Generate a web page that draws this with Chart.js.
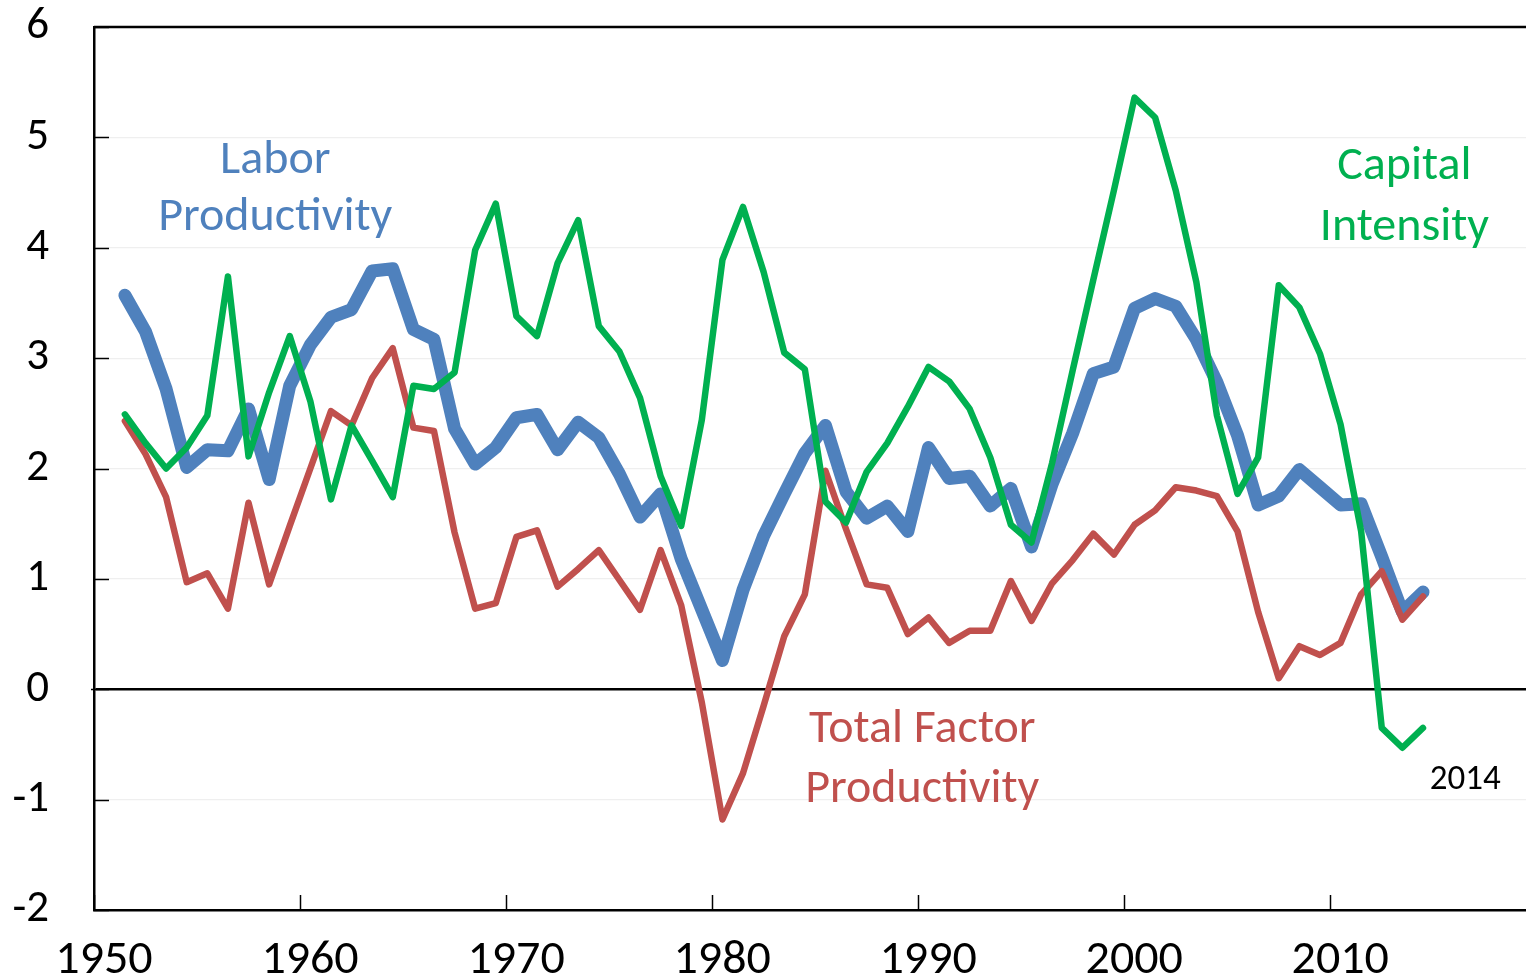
<!DOCTYPE html>
<html>
<head>
<meta charset="utf-8">
<script src="https://cdn.jsdelivr.net/npm/chart.js@4/dist/chart.umd.min.js"></script>
<style>
  html, body { margin: 0; padding: 0; background: #fff; }
  #wrap { width: 1526px; height: 977px; position: relative; }
</style>
</head>
<body>
<div id="wrap"><canvas id="chart" width="1526" height="977"></canvas></div>
<script>
// annual growth rates, % (points sit in the middle of each year)
const years = [
  1951, 1952, 1953, 1954, 1955, 1956, 1957, 1958, 1959, 1960,
  1961, 1962, 1963, 1964, 1965, 1966, 1967, 1968, 1969, 1970,
  1971, 1972, 1973, 1974, 1975, 1976, 1977, 1978, 1979, 1980,
  1981, 1982, 1983, 1984, 1985, 1986, 1987, 1988, 1989, 1990,
  1991, 1992, 1993, 1994, 1995, 1996, 1997, 1998, 1999, 2000,
  2001, 2002, 2003, 2004, 2005, 2006, 2007, 2008, 2009, 2010,
  2011, 2012, 2013, 2014
];

const laborProductivity = [
  3.57, 3.24, 2.72, 2.01, 2.17, 2.16, 2.54, 1.90, 2.75, 3.12,
  3.37, 3.44, 3.79, 3.81, 3.26, 3.17, 2.36, 2.04, 2.19, 2.46,
  2.49, 2.17, 2.42, 2.28, 1.95, 1.56, 1.77, 1.18, 0.72, 0.26,
  0.90, 1.39, 1.77, 2.14, 2.39, 1.79, 1.55, 1.66, 1.43, 2.19,
  1.91, 1.93, 1.66, 1.82, 1.29, 1.86, 2.32, 2.86, 2.92, 3.45,
  3.54, 3.47, 3.17, 2.78, 2.30, 1.67, 1.75, 1.99, 1.83, 1.67,
  1.68, 1.20, 0.70, 0.88
];

const totalFactorProductivity = [
  2.43, 2.13, 1.74, 0.97, 1.05, 0.73, 1.69, 0.95, 1.48, 2.00,
  2.52, 2.39, 2.82, 3.09, 2.37, 2.34, 1.42, 0.73, 0.78, 1.38,
  1.44, 0.93, 1.09, 1.26, 0.99, 0.72, 1.26, 0.76, -0.12, -1.18,
  -0.76, -0.15, 0.48, 0.86, 1.98, 1.45, 0.95, 0.92, 0.50, 0.65,
  0.42, 0.53, 0.53, 0.98, 0.62, 0.96, 1.17, 1.41, 1.22, 1.49,
  1.62, 1.83, 1.80, 1.75, 1.43, 0.70, 0.10, 0.39, 0.31, 0.42,
  0.86, 1.07, 0.63, 0.84
];

const capitalIntensity = [
  2.49, 2.23, 2.00, 2.19, 2.48, 3.74, 2.11, 2.69, 3.20, 2.61,
  1.72, 2.39, 2.07, 1.74, 2.75, 2.72, 2.87, 3.98, 4.40, 3.38,
  3.20, 3.86, 4.25, 3.29, 3.06, 2.64, 1.93, 1.48, 2.44, 3.89,
  4.37, 3.78, 3.05, 2.90, 1.70, 1.51, 1.97, 2.23, 2.56, 2.92,
  2.79, 2.54, 2.10, 1.49, 1.33, 2.05, 2.89, 3.71, 4.52, 5.36,
  5.18, 4.52, 3.69, 2.48, 1.77, 2.10, 3.66, 3.46, 3.04, 2.40,
  1.43, -0.35, -0.53, -0.35
];

const xTicks = [1950, 1960, 1970, 1980, 1990, 2000, 2010];
const yTicks = [-2, -1, 0, 1, 2, 3, 4, 5, 6];

const BLUE = '#4f81bd';
const RED = '#c0504d';
const GREEN = '#00b050';
const FONT = 'Carlito, Lato, "Open Sans", sans-serif';

const toPoints = vals => years.map((yr, i) => ({ x: yr + 0.5, y: vals[i] }));

// series labels placed in data space
const seriesLabels = [
  { lines: ['Labor', 'Productivity'], x: 1958.8, y: [4.79, 4.27], color: BLUE, size: 48 },
  { lines: ['Capital', 'Intensity'], x: 2013.6, y: [4.73, 4.18], color: GREEN, size: 48 },
  { lines: ['Total Factor', 'Productivity'], x: 1990.2, y: [-0.37, -0.91], color: RED, size: 48 },
  { lines: ['2014'], x: 2016.55, y: [-0.82], color: '#000', size: 35 },
];

const framePlugin = {
  id: 'frame',
  afterDatasetsDraw(chart) {
    const { ctx, chartArea: a, scales: { x, y } } = chart;
    ctx.save();
    ctx.strokeStyle = '#000';
    ctx.lineWidth = 2.5;
    // top border
    ctx.beginPath();
    ctx.moveTo(a.left, a.top);
    ctx.lineTo(a.right, a.top);
    ctx.stroke();
    // inward tick marks
    ctx.lineWidth = 1.5;
    yTicks.forEach(v => {
      const py = Math.round(y.getPixelForValue(v)) + 0.5;
      ctx.beginPath();
      ctx.moveTo(a.left - (v === 0 ? 3 : 0), py);
      ctx.lineTo(a.left + 15, py);
      ctx.stroke();
    });
    xTicks.forEach(v => {
      const px = Math.round(x.getPixelForValue(v)) + 0.5;
      ctx.beginPath();
      ctx.moveTo(px, a.bottom);
      ctx.lineTo(px, a.bottom - 15);
      ctx.stroke();
    });
    // text labels
    ctx.textAlign = 'center';
    ctx.textBaseline = 'middle';
    seriesLabels.forEach(l => {
      ctx.fillStyle = l.color;
      ctx.font = `${l.size}px ${FONT}`;
      l.lines.forEach((t, i) => {
        ctx.fillText(t, x.getPixelForValue(l.x), y.getPixelForValue(l.y[i]));
      });
    });
    ctx.restore();
  }
};

new Chart(document.getElementById('chart'), {
  type: 'line',
  data: {
    datasets: [
      {
        label: 'Capital Intensity',
        data: toPoints(capitalIntensity),
        borderColor: GREEN,
        borderWidth: 6.5,
        order: 1,
      },
      {
        label: 'Total Factor Productivity',
        data: toPoints(totalFactorProductivity),
        borderColor: RED,
        borderWidth: 6.5,
        order: 2,
      },
      {
        label: 'Labor Productivity',
        data: toPoints(laborProductivity),
        borderColor: BLUE,
        borderWidth: 13,
        order: 3,
      },
    ],
  },
  options: {
    responsive: false,
    devicePixelRatio: 1,
    animation: false,
    elements: {
      line: { tension: 0, fill: false, borderCapStyle: 'round', borderJoinStyle: 'round' },
      point: { radius: 0, hoverRadius: 0 },
    },
    layout: { padding: { top: 27, right: 0, left: 0, bottom: 0 } },
    plugins: {
      legend: { display: false },
      tooltip: { enabled: false },
    },
    scales: {
      x: {
        type: 'linear',
        min: 1950,
        max: 2019.5,
        afterBuildTicks: s => { s.ticks = xTicks.map(v => ({ value: v })); },
        afterFit: s => { s.height = 67; s.paddingLeft = 0; s.paddingRight = 0; },
        ticks: {
          color: '#000',
          font: { family: FONT, size: 48 },
          padding: 22,
          labelOffset: 10,
          maxRotation: 0,
          callback: v => String(v),
        },
        grid: { display: false, drawTicks: false },
        border: { display: true, color: '#000', width: 2.5 },
      },
      y: {
        min: -2,
        max: 6,
        afterBuildTicks: s => { s.ticks = yTicks.map(v => ({ value: v })); },
        afterFit: s => { s.width = 94; s.paddingTop = 0; s.paddingBottom = 0; },
        ticks: {
          color: '#000',
          font: { family: FONT, size: 45 },
          padding: 45,
          callback: v => String(v),
        },
        grid: {
          drawTicks: false,
          color: ctx => ctx.tick && ctx.tick.value === 0 ? '#000' : '#efefef',
          lineWidth: ctx => ctx.tick && ctx.tick.value === 0 ? 2.5 : 1.2,
        },
        border: { display: true, color: '#000', width: 2.5 },
      },
    },
  },
  plugins: [framePlugin],
});
</script>
</body>
</html>
